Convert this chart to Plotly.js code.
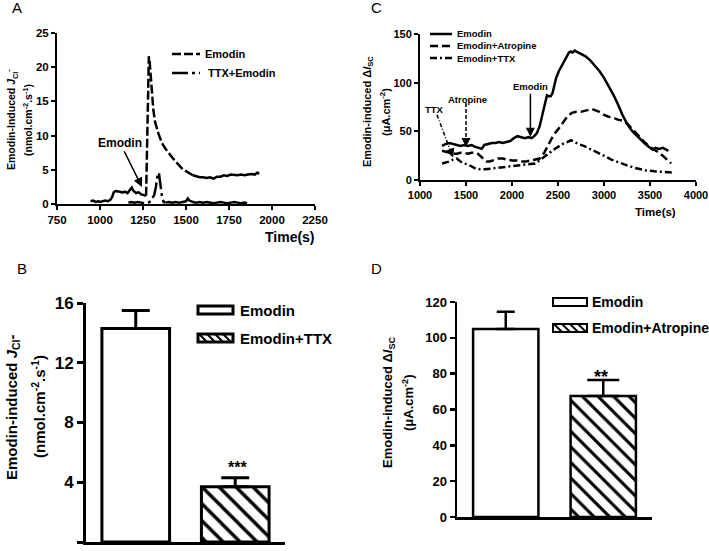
<!DOCTYPE html>
<html><head><meta charset="utf-8">
<script src="https://cdn.plot.ly/plotly-3.0.1.min.js"></script>
<style>html,body{margin:0;padding:0;background:#fff}#chart{width:709px;height:551px}</style>
</head><body><div id="chart"></div>
<script>
// ---------- Panel A data (time in s, J_Cl- in nmol.cm-2.s-1) ----------
const emodinA_preT = [945,960,975,990,1000,1015,1030,1045,1060,1070,1080,1090,1100,1115,1130,1145,1160,1175,1185,1195,1210,1225,1240,1255,1268];
const emodinA_preV = [0.4,0.5,0.3,0.4,0.3,0.4,0.5,0.4,0.6,1.0,1.7,1.9,1.9,1.8,1.7,1.8,1.6,2.0,2.4,1.9,1.6,1.7,1.4,1.3,1.2];
const emodinA_mainT = [1268,1275,1280,1284,1288,1292,1300,1310,1320,1330,1340,1350,1365,1380,1400,1420,1440,1460,1480,1500,1520,1540];
const emodinA_mainV = [1.2,10,19,21.6,21.0,19.5,16.5,13.8,12.0,11.0,10.3,9.6,8.7,8.1,7.4,6.8,6.2,5.6,5.1,4.8,4.5,4.2];
const emodinA_postT = [1540,1560,1580,1600,1620,1640,1660,1680,1700,1720,1740,1760,1780,1800,1820,1840,1860,1880,1900,1915,1925];
const emodinA_postV = [4.2,4.0,3.9,3.9,3.8,3.9,3.7,4.0,4.0,4.2,4.1,4.3,4.2,4.2,4.3,4.2,4.3,4.4,4.3,4.6,4.4];
const ttxA_mainT = [1165,1180,1200,1220,1240,1260,1280,1295,1305,1315,1325,1335,1342,1350,1360,1370,1380];
const ttxA_mainV = [0.2,0.3,0.2,0.3,0.2,0.1,0.2,0.4,0.9,1.3,2.5,4.2,4.6,3.2,1.2,0.3,0.2];
const ttxA_postT = [1380,1400,1420,1440,1460,1480,1500,1510,1520,1540,1560,1580,1600,1620,1640,1660,1680,1700,1720,1740,1760,1780,1800,1820,1840,1855];
const ttxA_postV = [0.2,0.3,0.2,0.3,0.2,0.3,0.4,0.8,0.5,0.3,0.2,0.3,0.2,0.3,0.2,0.1,0.2,0.3,0.2,0.1,0.2,0.3,0.2,0.1,0.2,0.1];
const ticksA = [750,1000,1250,1500,1750,2000,2250];

// ---------- Panel C data (time in s, ΔIsc in µA.cm-2) ----------
const emodinC_t = [1240,1280,1320,1360,1400,1440,1480,1520,1560,1600,1640,1670,1700,1740,1780,1820,1860,1900,1940,1980,2020,2060,2100,2140,2180,2210,2240,2270,2300,2330,2360,2380,2400,2420,2440,2460,2480,2510,2540,2570,2600,2620,2640,2660,2680,2700,2720,2760,2800,2850,2900,2950,3000,3050,3100,3150,3200,3250,3300,3350,3400,3450,3500,3530,3560,3600,3640,3680,3700];
const emodinC_v = [35,37,38,37,36,35,36,35,36,34,33,32,36,37,38,38,39,38,39,40,43,45,44,43,44,43,45,48,55,67,82,87,86,86,89,98,105,112,117,122,128,131,132,131,133,132,131,129,127,123,118,112,105,97,88,78,67,58,51,46,41,37,33,31,33,32,33,31,30];
const atropineC_t = [1240,1280,1320,1360,1400,1440,1480,1520,1560,1600,1630,1660,1690,1720,1760,1800,1850,1900,1950,2000,2050,2100,2150,2200,2250,2300,2350,2400,2450,2500,2550,2600,2650,2700,2750,2800,2870,2950,3000,3050,3100,3150,3200,3250,3300,3350,3400,3450,3500,3550,3600,3650,3700,3730];
const atropineC_v = [30,29,28,27,27,28,28,27,28,28,27,24,21,19,19,20,22,22,21,20,20,19,19,20,21,22,28,37,46,52,58,65,69,70,70,71,73,70,67,65,64,62,61,58,53,47,42,38,34,31,28,24,20,17];
const ttxC_t = [1240,1280,1320,1360,1400,1440,1480,1520,1560,1600,1650,1700,1800,1900,2000,2100,2200,2250,2300,2350,2400,2450,2500,2550,2600,2640,2660,2680,2720,2780,2850,2920,3000,3080,3160,3250,3350,3450,3550,3650,3750];
const ttxC_v = [17,18,19,21,22,19,17,16,14,12,11,11,12,13,14,15,16,17,20,24,28,31,34,37,39,41,40,39,37,35,32,29,25,21,18,15,12,10,9,8,7.5];
const ticksC = [1000,1500,2000,2500,3000,3500,4000];

// ---------- Panel B data ----------
const catB = ["Emodin","Emodin+TTX"];
const meanB = [14.3, 3.7];
const semB = [1.2, 0.6];
const ticksB = [0,4,8,12,16];

// ---------- Panel D data ----------
const catD = ["Emodin","Emodin+Atropine"];
const meanD = [105, 67.5];
const semD = [9.5, 9];
const ticksD = [0,20,40,60,80,100,120];

// ---------- helpers ----------
const W = 709, H = 551;
const px = x => x / W;
const py = y => 1 - y / H;
const FF = 'Liberation Sans, Arial, Helvetica, sans-serif';
const bf = (s) => ({family: FF, size: s, color: 'black', weight: 'bold'});

const dashEmA = '9px,3px';
const dashTtxA = '16px,4px,3px,4px';
const dashAtrC = '8px,4px';
const dashTtxC = '7px,3px,2px,3px';

const lineTrace = (x, y, xa, ya, dash, w) => ({
  type: 'scatter', mode: 'lines', x: x, y: y, xaxis: xa, yaxis: ya,
  line: {color: 'black', width: w || 2.5, dash: dash || 'solid'},
  showlegend: false, hoverinfo: 'skip'
});

const barTrace = (cat, v, e, idx, xa, ya, hatch, lw, capw, psize) => ({
  type: 'bar', x: [cat[idx]], y: [v[idx]], xaxis: xa, yaxis: ya,
  width: [xa === 'x3' ? 0.68 : 0.67],
  marker: {color: 'white', line: {color: 'black', width: lw},
           pattern: hatch ? {shape: '\\', fgcolor: 'black', bgcolor: 'white', size: psize, solidity: 0.28} : {shape: ''}},
  error_y: {type: 'data', symmetric: false, array: [e[idx]], arrayminus: [0], color: 'black', thickness: lw, width: capw},
  showlegend: false, hoverinfo: 'skip'
});

const data = [
  lineTrace(emodinA_preT, emodinA_preV, 'x', 'y'),
  lineTrace(emodinA_mainT, emodinA_mainV, 'x', 'y', dashEmA),
  lineTrace(emodinA_postT, emodinA_postV, 'x', 'y'),
  lineTrace(ttxA_mainT, ttxA_mainV, 'x', 'y', dashTtxA),
  lineTrace(ttxA_postT, ttxA_postV, 'x', 'y'),
  lineTrace(emodinC_t, emodinC_v, 'x2', 'y2'),
  lineTrace(atropineC_t, atropineC_v, 'x2', 'y2', dashAtrC),
  lineTrace(ttxC_t, ttxC_v, 'x2', 'y2', dashTtxC),
  barTrace(catB, meanB, semB, 0, 'x3', 'y3', false, 3, 14, 12),
  barTrace(catB, meanB, semB, 1, 'x3', 'y3', true, 3, 14, 12),
  barTrace(catD, meanD, semD, 0, 'x4', 'y4', false, 2.5, 9, 11),
  barTrace(catD, meanD, semD, 1, 'x4', 'y4', true, 2.5, 16, 11)
];

const axBase = (lw, tl, fs) => ({
  showline: true, linecolor: 'black', linewidth: lw, ticks: 'outside', ticklen: tl,
  tickwidth: lw, tickcolor: 'black', showgrid: false, zeroline: false,
  tickfont: bf(fs), fixedrange: true
});

const layout = {
  width: W, height: H, autosize: false,
  margin: {l: 0, r: 0, t: 0, b: 0},
  paper_bgcolor: 'white', plot_bgcolor: 'white',
  barmode: 'overlay', showlegend: false,
  xaxis: Object.assign(axBase(2, 4, 11.5), {domain: [px(57), px(315)], anchor: 'y', range: [750, 2250], tickvals: ticksA}),
  yaxis: Object.assign(axBase(2, 4, 11.5), {domain: [py(204), py(33)], anchor: 'x', range: [0, 25], dtick: 5}),
  xaxis2: Object.assign(axBase(2, 4, 11), {domain: [px(420), px(696)], anchor: 'y2', range: [1000, 4000], tickvals: ticksC}),
  yaxis2: Object.assign(axBase(2, 4, 11), {domain: [py(180), py(34)], anchor: 'x2', range: [0, 150], tickvals: [0, 50, 100, 150]}),
  xaxis3: Object.assign(axBase(3, 0, 12), {domain: [px(86), px(285)], anchor: 'y3', type: 'category', range: [-0.5, 1.5], ticks: '', showticklabels: false}),
  yaxis3: Object.assign(axBase(3, 6, 17), {domain: [py(542), py(303)], anchor: 'x3', range: [0, 16], tickvals: ticksB}),
  xaxis4: Object.assign(axBase(2.5, 0, 12), {domain: [px(457), px(652)], anchor: 'y4', type: 'category', range: [-0.5, 1.5], ticks: '', showticklabels: false}),
  yaxis4: Object.assign(axBase(2.5, 5, 13), {domain: [py(517), py(302)], anchor: 'x4', range: [0, 120], tickvals: ticksD}),
  shapes: [],
  annotations: []
};

const S = layout.shapes, A = layout.annotations;
const pTxt = (text, x, y, size, opts) => Object.assign({
  text: text, x: px(x), y: py(y), xref: 'paper', yref: 'paper', showarrow: false,
  xanchor: 'center', yanchor: 'middle', font: bf(size)
}, opts || {});

// panel letters
[['A', 17, 8], ['C', 377, 8], ['B', 22, 268], ['D', 377, 268]].forEach(l =>
  A.push(pTxt(l[0], l[1], l[2], 15, {font: {family: FF, size: 15, color: 'black'}})));

// y-axis titles
A.push(pTxt('Emodin-Induced <i>J</i><sub>Cl</sub><sup>-</sup>', 12, 120, 10.5, {textangle: -90}));
A.push(pTxt('(nmol.cm<sup>-2</sup>.s<sup>-1</sup>)', 27, 120, 10.5, {textangle: -90}));
A.push(pTxt('Emodin-induced Δ<i>I</i><sub>SC</sub>', 368, 112, 11, {textangle: -90}));
A.push(pTxt('(μA.cm<sup>-2</sup>)', 385, 112, 11, {textangle: -90}));
A.push(pTxt('Emodin-induced <i>J</i><sub>Cl</sub>-', 12, 407, 15, {textangle: -90}));
A.push(pTxt('(nmol.cm<sup>-2</sup>.s<sup>-1</sup>)', 38, 407, 15, {textangle: -90}));
A.push(pTxt('Emodin-induced Δ<i>I</i><sub>SC</sub>', 388, 403, 13, {textangle: -90}));
A.push(pTxt('(μA.cm<sup>-2</sup>)', 408, 403, 13, {textangle: -90}));

// x-axis titles
A.push(pTxt('Time(s)', 290, 237, 14));
A.push(pTxt('Time(s)', 655, 212, 11.5));

// Panel A legend
S.push({type: 'line', xref: 'paper', yref: 'paper', x0: px(172), x1: px(200), y0: py(54), y1: py(54), line: {color: 'black', width: 2.5, dash: dashEmA}});
S.push({type: 'line', xref: 'paper', yref: 'paper', x0: px(172), x1: px(200), y0: py(73), y1: py(73), line: {color: 'black', width: 2.5, dash: dashTtxA}});
A.push(pTxt('Emodin', 203, 54, 11, {xanchor: 'left'}));
A.push(pTxt('TTX+Emodin', 206, 73, 11, {xanchor: 'left'}));

// Panel C legend
S.push({type: 'line', xref: 'paper', yref: 'paper', x0: px(430), x1: px(452), y0: py(34), y1: py(34), line: {color: 'black', width: 2.5}});
S.push({type: 'line', xref: 'paper', yref: 'paper', x0: px(430), x1: px(452), y0: py(46), y1: py(46), line: {color: 'black', width: 2.5, dash: dashAtrC}});
S.push({type: 'line', xref: 'paper', yref: 'paper', x0: px(430), x1: px(452), y0: py(58), y1: py(58), line: {color: 'black', width: 2.5, dash: dashTtxC}});
A.push(pTxt('Emodin', 455, 34, 9.5, {xanchor: 'left'}));
A.push(pTxt('Emodin+Atropine', 455, 46, 9.5, {xanchor: 'left'}));
A.push(pTxt('Emodin+TTX', 455, 58, 9.5, {xanchor: 'left'}));

// bar legends (B and D)
function boxLegend(x0, x1, yTop, yBot, lw, hatch) {
  S.push({type: 'rect', xref: 'paper', yref: 'paper', x0: px(x0), x1: px(x1), y0: py(yBot), y1: py(yTop),
          line: {color: 'black', width: lw}, fillcolor: 'white'});
  if (hatch) {
    const h = yBot - yTop;
    for (let xs = x0 + 1; xs + h <= x1; xs += 8) {
      S.push({type: 'line', xref: 'paper', yref: 'paper', x0: px(xs), x1: px(xs + h), y0: py(yTop), y1: py(yBot),
              line: {color: 'black', width: 2}});
    }
  }
}
boxLegend(198, 233, 306, 314, 3, false);
boxLegend(198, 233, 334, 342, 3, true);
A.push(pTxt('Emodin', 238, 310, 15, {xanchor: 'left'}));
A.push(pTxt('Emodin+TTX', 238, 338, 15, {xanchor: 'left'}));
boxLegend(553, 587, 298, 306, 2, false);
boxLegend(553, 587, 324, 332, 2, true);
A.push(pTxt('Emodin', 590, 302, 14, {xanchor: 'left'}));
A.push(pTxt('Emodin+Atropine', 590, 328, 14, {xanchor: 'left'}));

// significance marks
A.push(pTxt('***', 238, 467, 16));
A.push(pTxt('**', 601, 377, 18));

// Panel A arrow annotation
A.push({text: 'Emodin', x: 1244, y: 2.5, xref: 'x', yref: 'y', showarrow: true, ax: -22, ay: -44,
        arrowhead: 2, arrowsize: 1.2, arrowwidth: 1.5, arrowcolor: 'black', font: bf(12)});

// Panel C arrow annotations
A.push({text: 'Emodin', x: 2200, y: 44.5, xref: 'x2', yref: 'y2', showarrow: true, ax: 0, ay: -50,
        arrowhead: 2, arrowsize: 1.2, arrowwidth: 1.5, arrowcolor: 'black', font: bf(9.5)});
A.push(pTxt('Atropine', 467.5, 99.5, 9.5));
S.push({type: 'line', xref: 'x2', yref: 'y2', x0: 1500, x1: 1500, y0: 79, y1: 40, line: {color: 'black', width: 1.5, dash: '4px,2px'}});
A.push({text: '', x: 1500, y: 34, xref: 'x2', yref: 'y2', showarrow: true, ax: 0, ay: -9,
        arrowhead: 2, arrowsize: 1.2, arrowwidth: 1.5, arrowcolor: 'black'});
A.push(pTxt('TTX', 434, 109.5, 9.5));
S.push({type: 'line', xref: 'x2', yref: 'y2', x0: 1185, x1: 1327, y0: 67, y1: 31, line: {color: 'black', width: 1.5, dash: '4px,2px,1px,2px'}});
A.push({text: '', x: 1360, y: 23, xref: 'x2', yref: 'y2', showarrow: true, ax: -3.5, ay: -9.4,
        arrowhead: 2, arrowsize: 1.2, arrowwidth: 1.5, arrowcolor: 'black'});

Plotly.newPlot('chart', data, layout, {displayModeBar: false, staticPlot: true});
</script>
</body></html>
